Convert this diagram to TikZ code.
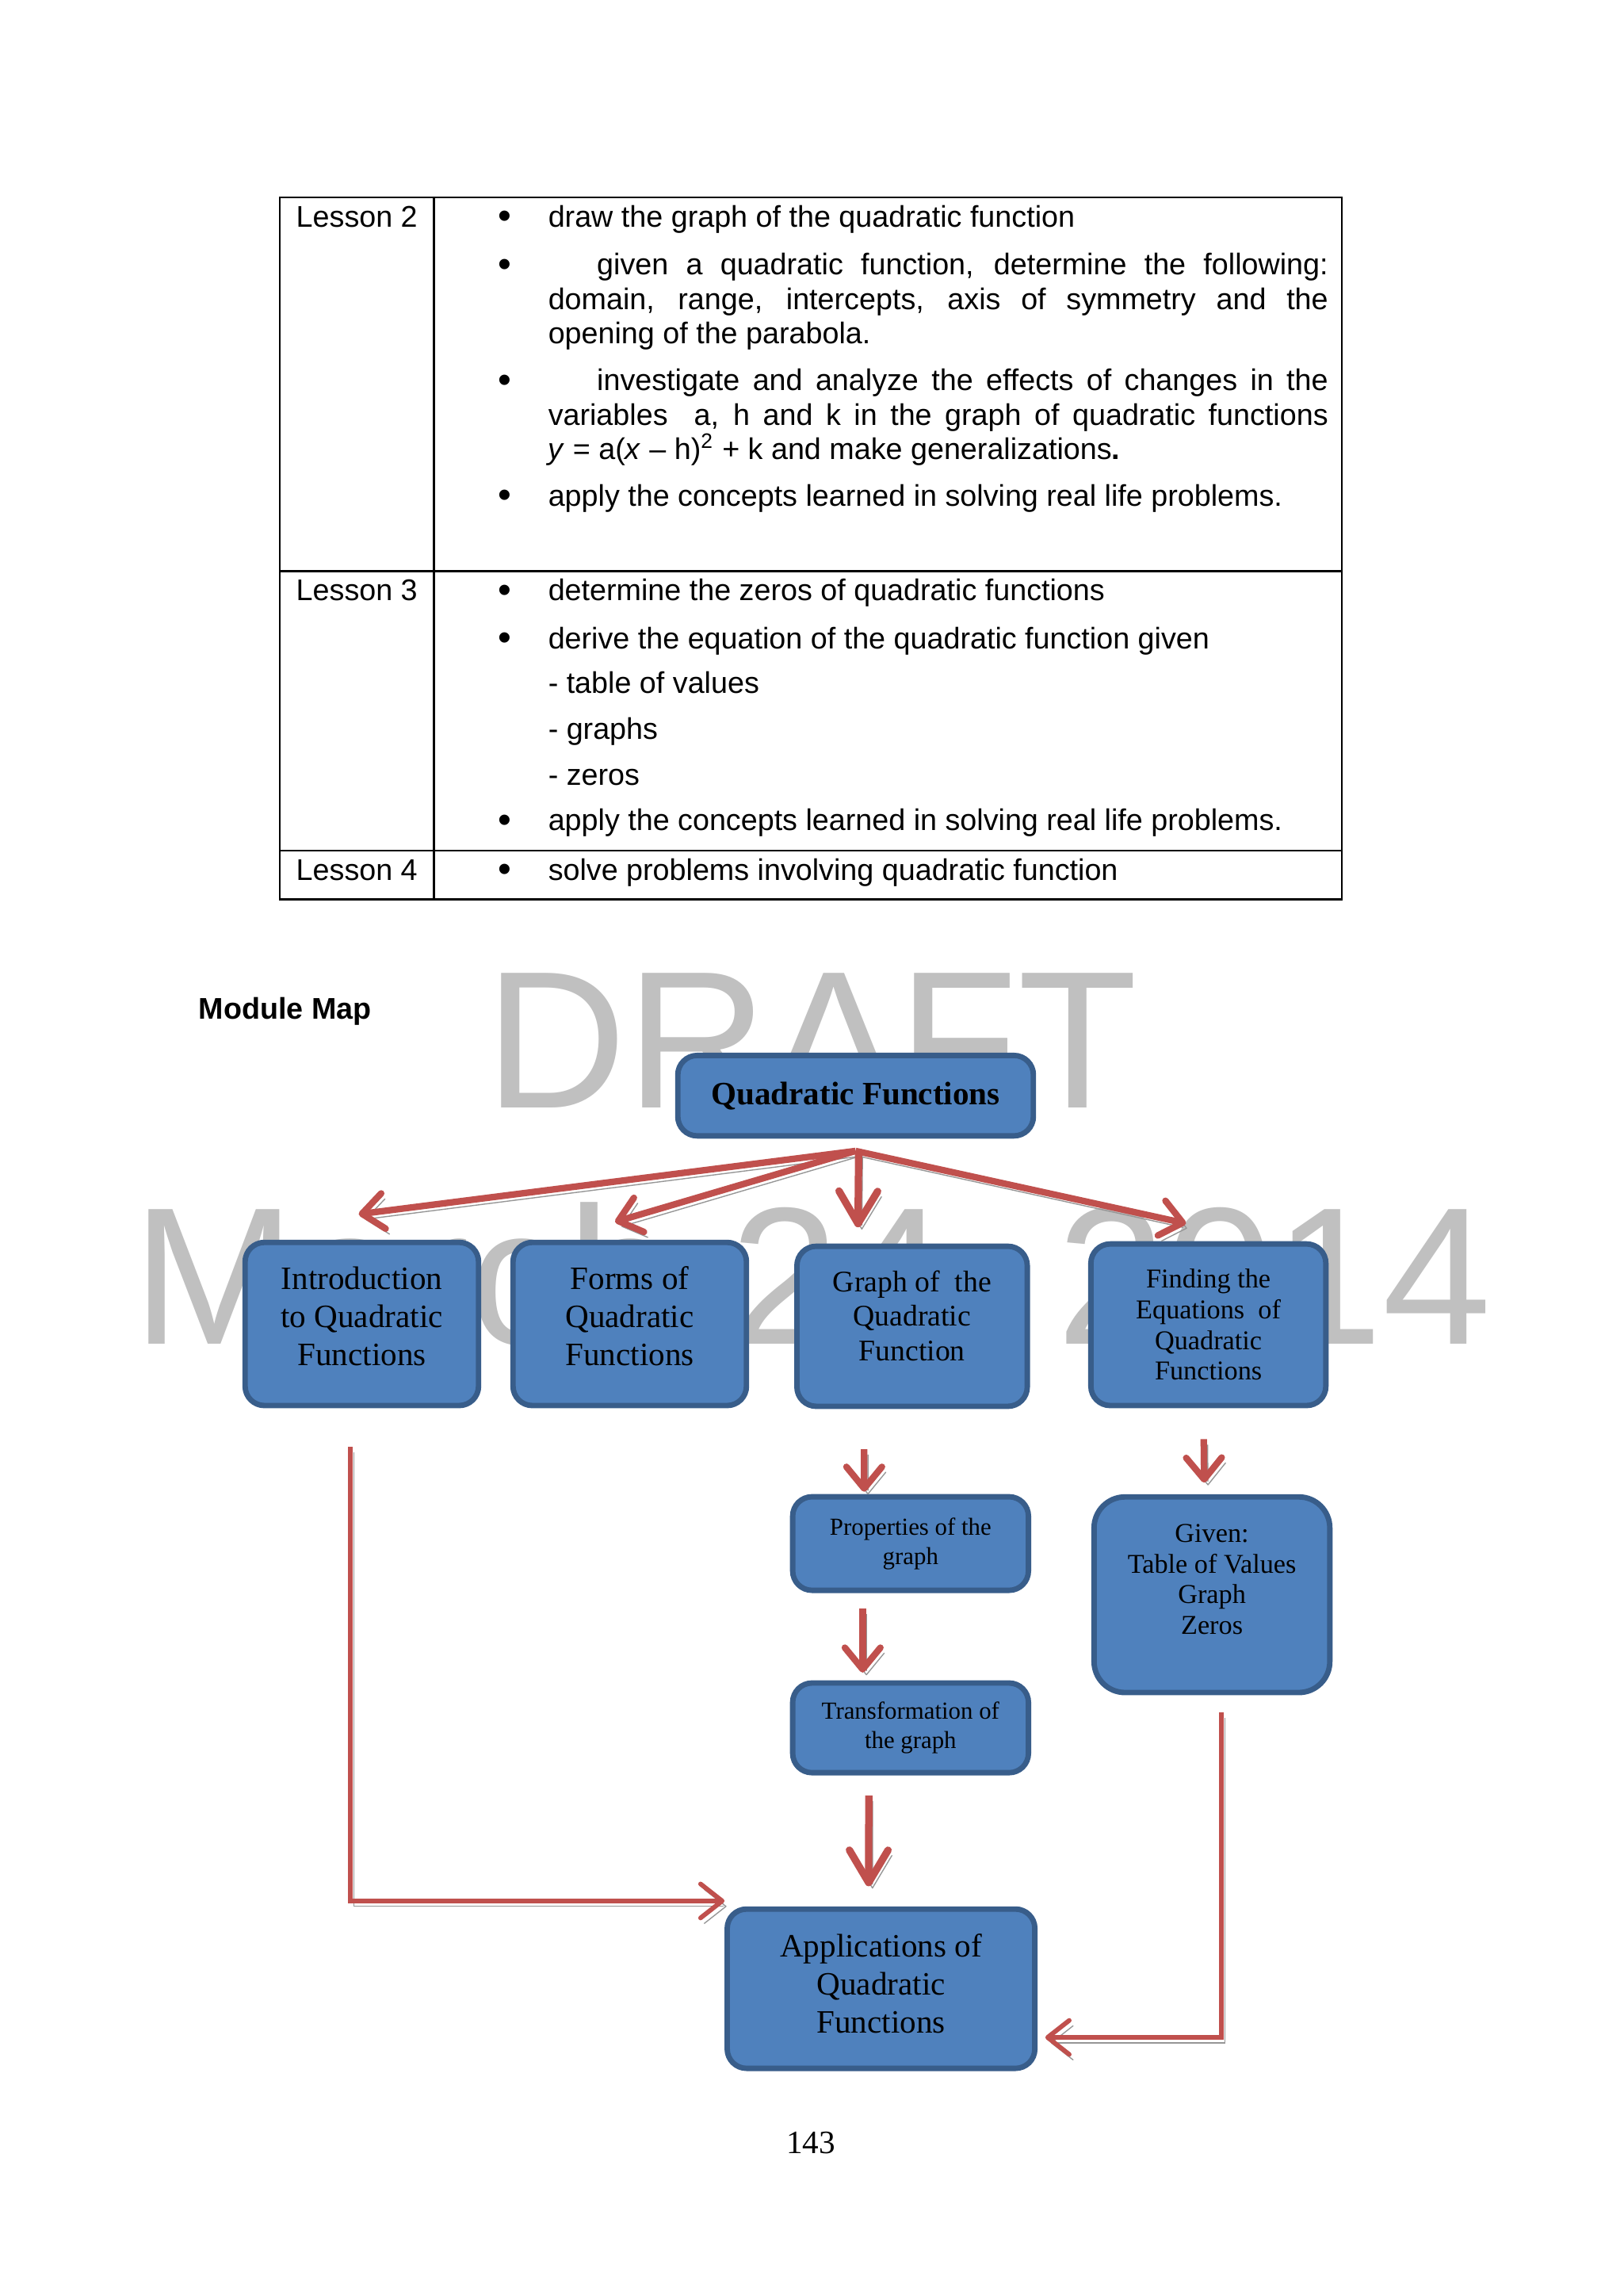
\documentclass[tikz,border=0pt]{standalone}
\usepackage{fontspec}
\setmainfont{Liberation Serif}
\newfontfamily\arialfont{Liberation Sans}
\usetikzlibrary{positioning,calc,arrows.meta}
\definecolor{MapBlue}{RGB}{79,129,189}
\definecolor{MapEdge}{RGB}{56,93,138}
\definecolor{MapRed}{RGB}{192,80,77}
\definecolor{MapShadow}{RGB}{150,150,150}
\definecolor{DraftGray}{RGB}{192,192,192}

\newcommand{\tabfont}{\arialfont\fontsize{11}{12.6}\selectfont}

\begin{document}
\begin{tikzpicture}[
    lesson/.style={
        anchor=base west,
        inner sep=0pt,
        font=\tabfont
    },
    dot/.style={
        anchor=base,
        inner sep=0pt,
        font=\arialfont\fontsize{14}{14}\selectfont
    },
    aim/.style={
        anchor=base west,
        inner sep=0pt,
        text width=10.09cm,
        align=justify,
        font=\tabfont
    },
    watermark/.style={
        anchor=base,
        inner sep=0pt,
        text=DraftGray,
        font=\arialfont\fontsize{72}{80}\selectfont
    },
    box/.style={
        draw=MapEdge,
        fill=MapBlue,
        line width=2pt,
        rounded corners=2.5mm,
        align=center,
        inner sep=1pt
    },
    flow/.style={
        -{Straight Barb[length=2.8mm,width=4.6mm,round]},
        line width=2.4pt,
        draw=MapRed,
        preaction={draw=MapShadow, transform canvas={xshift=1.4pt,yshift=-2pt}}
    },
    bigflow/.style={
        flow,
        -{Straight Barb[length=4.2mm,width=5mm,round]},
        line width=2.7pt
    },
    thinflow/.style={
        flow,
        -{Straight Barb[length=2.8mm,width=4.4mm,round]},
        line width=1.7pt
    }
]

\fill[white] (0,0) rectangle (21,-29.685);
\useasboundingbox (0,0) rectangle (21,-29.685);

% =========================
% Lesson table
% =========================
\draw[line width=0.6pt] (3.620,-2.553) rectangle (17.360,-11.633);
\draw[line width=0.6pt] (3.620,-7.388) -- (17.360,-7.388);
\draw[line width=0.6pt] (3.620,-11.003) -- (17.360,-11.003);
\draw[line width=0.6pt] (5.614,-2.553) -- (5.614,-11.633);

\node[lesson] (l2) at (3.825,-2.933) {Lesson 2};
\node[lesson] (l3) at (3.825,-7.763) {Lesson 3};
\node[lesson] (l4) at (3.825,-11.382) {Lesson 4};

\node[dot] at (6.532,-2.963) {\textbullet};
\node[dot] at (6.532,-3.588) {\textbullet};
\node[dot] at (6.532,-5.085) {\textbullet};
\node[dot] at (6.532,-6.572) {\textbullet};
\node[dot] at (6.532,-7.793) {\textbullet};
\node[dot] at (6.532,-8.418) {\textbullet};
\node[dot] at (6.532,-10.776) {\textbullet};
\node[dot] at (6.532,-11.412) {\textbullet};

\node[aim] (a21) at (7.086,-2.933) {draw the graph of the quadratic function};
\node[aim] (a22) at (7.086,-3.558) {\hspace*{0.63cm}given a quadratic function, determine the following:\linebreak
    domain, range, intercepts, axis of symmetry and the\linebreak
    opening of the parabola.};
\node[aim] (a23) at (7.086,-5.055) {\hspace*{0.63cm}investigate and analyze the effects of changes in the\linebreak
    variables\ \ a, h and k in the graph of quadratic functions\linebreak
    \textit{y} = a(\textit{x} – h)\textsuperscript{2} + k and make generalizations\textbf{.}};
\node[aim] (a24) at (7.086,-6.542) {apply the concepts learned in solving real life problems.};

\node[aim] (a31) at (7.086,-7.763) {determine the zeros of quadratic functions};
\node[aim] (a32) at (7.086,-8.388) {derive the equation of the quadratic function given};
\node[aim] (a33) at (7.086,-8.972) {- table of values};
\node[aim] (a34) at (7.086,-9.557) {- graphs};
\node[aim] (a35) at (7.086,-10.152) {- zeros};
\node[aim] (a36) at (7.086,-10.746) {apply the concepts learned in solving real life problems.};

\node[aim] (a41) at (7.086,-11.382) {solve problems involving quadratic function};

% =========================
% Module map
% =========================
\node[lesson, font=\arialfont\bfseries\fontsize{11}{12.6}\selectfont] (maptitle) at (2.564,-13.177) {Module Map};

\node[watermark] (draft) at (10.50,-14.325) {DRAFT};
\node[watermark] (stamp) at (10.51,-17.381) {March 24, 2014};

\node[box, font=\bfseries\fontsize{12}{14}\selectfont,
      minimum width=4.60cm, minimum height=1.04cm] (qf) at (11.069,-14.172) {Quadratic Functions};

\node[box, font=\fontsize{12}{14}\selectfont,
      minimum width=3.02cm, minimum height=2.11cm] (intro) at (4.681,-17.125) {Introduction\\to Quadratic\\Functions\\[-8pt]\mbox{}};
\node[box, font=\fontsize{12}{14}\selectfont,
      minimum width=3.02cm, minimum height=2.11cm] (forms) at (8.147,-17.125) {Forms of\\Quadratic\\Functions\\[-8pt]\mbox{}};
\node[box, font=\fontsize{11}{12.8}\selectfont,
      minimum width=2.98cm, minimum height=2.07cm] (graph) at (11.80,-17.155) {Graph of \ the\\Quadratic\\Function\\[-5pt]\mbox{}};
\node[box, font=\fontsize{10}{11.3}\selectfont,
      minimum width=3.04cm, minimum height=2.09cm] (finding) at (15.633,-17.135) {Finding the\\Equations \ of\\Quadratic\\Functions};

\node[box, font=\fontsize{9}{10.8}\selectfont,
      minimum width=3.05cm, minimum height=1.21cm] (props) at (11.78,-19.965) {Properties of the\\graph};
\node[box, font=\fontsize{9}{10.8}\selectfont,
      minimum width=3.05cm, minimum height=1.16cm] (trans) at (11.78,-22.349) {Transformation of\\the graph};
\node[box, rounded corners=4mm, font=\fontsize{10}{11.3}\selectfont,
      minimum width=3.05cm, minimum height=2.53cm] (given) at (15.679,-20.627) {Given:\\Table of Values\\Graph\\Zeros\\\mbox{}};

\node[box, font=\fontsize{12}{14}\selectfont,
      minimum width=3.98cm, minimum height=2.06cm] (apps) at (11.398,-25.723) {Applications of\\Quadratic\\Functions\\[-10pt]\mbox{}};

% fan out from the main topic
\coordinate (hub) at ([yshift=-1.6mm]qf.south);
\draw[flow] (hub) -- ([xshift=-0.4mm,yshift=3.3mm]intro.north);
\draw[flow] (hub) -- ([xshift=-1.9mm,yshift=2.3mm]forms.north);
\draw[flow] (hub) -- ([xshift=-2.9mm,yshift=2.3mm]finding.north);
\draw[bigflow] ([xshift=0.4mm]hub) -- ([xshift=-7mm,yshift=2.1mm]graph.north);

% columns
\draw[flow] ([xshift=-6.2mm,yshift=-5.2mm]graph.south) -- ([xshift=-6mm,yshift=0.3mm]props.north);
\draw[flow] ([xshift=-6.2mm,yshift=-2mm]props.south) -- ([xshift=-6.2mm,yshift=1mm]trans.north);
\draw[bigflow] ([xshift=-5.4mm,yshift=-2.6mm]trans.south) -- ([xshift=-1.6mm,yshift=2.6mm]apps.north);
\draw[flow] ([xshift=-0.6mm,yshift=-4mm]finding.south) -- ([xshift=-1mm,yshift=1.5mm]given.north);

% into the applications
\draw[thinflow] ([xshift=-1.5mm,yshift=-5mm]intro.south) |- ([yshift=0.7mm]apps.north west);
\draw[thinflow] ([xshift=1.2mm,yshift=-2.2mm]given.south) |- ([xshift=1mm,yshift=-6.3mm]apps.east);

\node[anchor=base, inner sep=0pt, font=\fontsize{12}{14}\selectfont] (pagenum) at (10.49,-27.851) {143};

\end{tikzpicture}
\end{document}
